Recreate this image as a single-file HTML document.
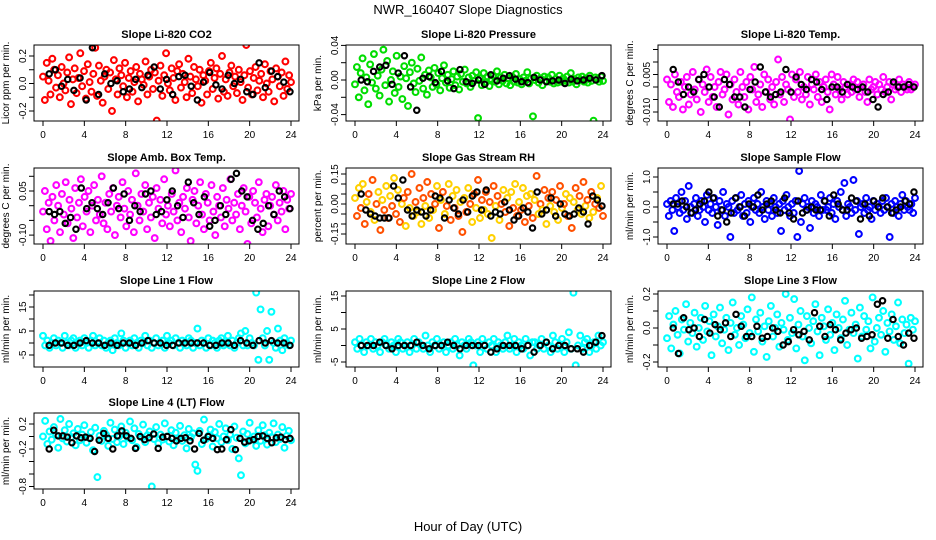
<!DOCTYPE html>
<html><head><meta charset="utf-8"><style>
body{margin:0;background:#fff}
svg{display:block;font-family:"Liberation Sans",sans-serif}
</style></head><body>
<svg id="chart" width="936" height="540" viewBox="0 0 936 540">
<rect width="936" height="540" fill="#fff"/>
<text x="468" y="14" font-size="13" text-anchor="middle">NWR_160407  Slope Diagnostics</text>
<text x="468" y="531" font-size="13" text-anchor="middle">Hour of Day (UTC)</text>
</svg>
<script>
const xTicks=[0,4,8,12,16,20,24];
const co2Vals=[5,-12,15,2,-8,18,10,-3,6,-10,12,0,-5,8,19,-15,3,11,-7,4,22,-2,9,-11,14,1,-6,7,26,-9,13,2,-14,5,10,-4,8,-20,17,3,-8,11,6,-2,15,-10,4,9,-6,1,12,-13,7,3,-1,16,-8,5,10,-4,8,-27,2,13,-9,6,22,0,-5,11,4,-12,9,14,-3,7,1,-10,18,5,-7,12,3,-2,10,-14,6,2,-8,9,15,-4,4,11,-11,7,20,-6,3,-9,8,13,-2,5,-7,10,1,-12,6,28,-3,9,-8,4,12,-5,2,7,-10,14,0,-6,9,3,-13,11,5,-2,8,-9,16,-4,6,1];
const co2Black=[7,10,-2,3,-5,4,-12,26,-8,7,0,2,-6,-4,3,-3,6,12,-4,3,-8,5,6,-2,-12,1,8,-1,-4,6,0,3,-6,-8,15,-3,9,5,1,-6];
const presVals=[-5,15,-20,8,25,-12,3,-28,18,-3,30,-10,5,-18,12,35,-6,22,-25,0,10,-15,28,-8,4,-22,16,2,-30,9,20,-4,-14,13,-1,26,-10,6,-17,11,3,-8,14,-5,8,-12,2,17,-3,6,-9,1,10,-6,4,-11,7,-2,12,-4,3,-8,5,-1,9,-44,2,-6,8,-3,4,-7,1,5,-2,10,-5,3,-1,6,-4,2,-6,4,-2,7,-3,1,-5,3,-1,9,-4,2,-42,0,5,-3,2,-6,4,-1,3,-2,6,-4,1,-3,5,-2,2,-1,4,-3,8,-2,1,-5,3,0,4,-2,2,-3,5,-1,-47,3,1,-2,4,-1];
const presBlack=[0,-2,10,15,17,-5,8,28,-8,-35,2,4,-3,10,-1,-10,12,-2,-4,0,-5,6,-1,2,5,1,-2,-3,3,0,-2,-1,0,-4,1,-1,0,2,0,5];
const tempVals=[3,-6,1,-8,5,-2,-4,2,-9,0,4,-7,-3,6,-1,-5,3,-10,1,-2,7,-6,4,-4,0,-8,2,6,-3,-1,5,-11,1,-5,3,-2,-7,6,0,-4,2,-9,4,-1,8,-6,-3,1,-8,5,-2,3,-5,0,-7,2,11,-3,4,-6,1,-1,-13,5,-4,3,-2,6,-5,0,-3,4,-7,1,-1,5,-4,2,-6,0,3,-2,-9,5,1,-3,4,-1,-5,2,0,-3,1,-2,3,-1,2,-4,0,1,-2,-6,3,-1,0,2,-3,1,-1,4,-2,0,2,-5,1,-1,0,3,-2,1,0,-1,2,-1,0,1];
const tempBlack=[7,2,-3,0,-2,3,5,0,-4,-8,3,1,-4,-4,-8,-1,2,8,-2,-4,-3,-2,7,-2,4,1,-1,3,2,-1,-5,0,0,-2,1,0,-1,0,-2,-5,-8,-3,-2,2,0,0,1,0];
const ambVals=[-2,5,-8,1,-12,3,-5,7,0,-9,4,-3,8,-6,2,-1,-11,6,-4,1,9,-7,3,-2,5,-9,0,7,-5,2,-3,10,-6,1,-8,4,-2,6,-10,0,3,-4,8,-1,-7,5,-3,2,-9,11,0,-5,4,-2,7,-8,1,-4,3,-11,6,-1,2,-6,9,-3,0,-7,4,-2,12,-5,1,-9,3,-1,6,-4,-12,2,5,-6,0,8,-3,-8,4,1,-5,7,-2,-10,3,0,-4,6,-7,2,-1,9,-5,1,-3,4,-8,0,6,-2,-13,3,-6,5,1,-4,8,-1,-9,2,4,-7,0,3,-3,7,-5,1,-2,5,-8,2,-1,4];
const ambBlack=[-2,-3,-2,-6,-4,-8,6,-1,1,-1,-3,1,6,-1,4,-5,0,-2,4,5,-3,-2,2,5,0,-4,8,1,-3,3,-7,-5,0,-3,9,11,5,3,-5,-8,-6,0,-3,5,3,-1];
const rhVals=[3,-6,8,-2,10,-10,1,5,-4,12,-8,0,6,-13,2,-3,9,-7,4,-1,13,-5,7,-9,0,3,-11,6,-2,15,-6,1,-4,8,-10,3,-1,11,-7,5,-3,0,9,-12,2,6,-5,-1,10,-8,4,-2,7,-6,1,-14,3,-4,8,0,-9,5,-2,12,-7,2,-3,6,-5,1,-17,9,-1,4,-8,0,7,-4,3,-11,6,-2,10,-6,1,-3,8,-9,4,-1,5,-7,2,14,-5,0,-3,7,-10,3,-1,6,-4,2,-8,9,-2,0,5,-6,3,-12,1,8,-3,4,-5,11,-1,2,-7,6,-4,0,3,-2,9,-6];
const rhBlack=[5,-3,-5,-6,-7,-7,-7,9,3,12,-3,-6,-3,-4,-6,-3,4,3,-7,2,-2,-5,2,-4,4,6,-3,7,-6,-4,-5,1,-3,-8,-6,-2,-4,-12,6,-5,-3,3,-6,0,-5,-6,-5,-2,-4,-10,4,2,-1];
const flowVals=[1,-3,2,-1,-8,3,0,-2,5,-1,2,-4,7,0,-2,1,3,-3,-1,2,0,-5,4,-1,1,-2,3,0,-6,2,-1,5,-3,1,0,-10,2,-2,3,-1,0,4,-3,1,-2,2,-5,0,3,-1,1,-2,5,0,-4,2,-1,1,-3,3,0,-2,1,-8,2,-1,4,0,-3,1,-2,2,-10,12,-5,1,3,-1,0,-7,2,-2,1,0,-3,4,-1,2,-1,0,3,-2,1,-4,2,0,5,-1,8,-3,1,0,-2,9,-1,2,-9,0,1,-2,3,-1,0,-4,2,-1,1,0,-2,2,-1,3,0,-10,1,-2,2,0,-3,1,4,-1,2,0,-1,1,-2,3];
const flowBlack=[1,1,2,0,-2,-1,1,2,5,3,-3,-1,-5,-2,3,0,-3,1,0,4,-1,1,2,-1,-2,3,-2,-4,2,-2,-1,0,-1,-1,2,-3,4,1,-1,-1,3,2,-4,1,-3,2,0,3,0,-2,-1,0,2,1,5];
const line1Vals=[3,-1,1,-2,0,2,-1,1,0,-2,3,0,-1,1,2,-2,0,1,-1,2,0,-2,1,3,-1,0,2,-1,1,-2,0,1,-3,2,0,-1,4,1,-2,0,1,-1,2,0,-2,1,0,3,-1,1,-2,0,2,-1,0,1,-2,3,0,1,-1,2,0,-2,1,0,-1,2,1,-2,0,6,-1,1,0,-2,2,-1,1,0,-2,1,2,-1,0,3,-1,1,-2,0,2,4,-1,5,-1,2,0,-1,21,-7,14,2,-1,5,-7,13,0,-2,6,1,-3,2,0,-1,1];
const line1Black=[-1,0,0,-1,-1,0,1,0,0,-1,0,-1,0,0,-1,0,1,0,0,-1,-1,0,0,0,0,0,-1,-1,0,0,-1,1,0,-1,1,0,1,0,0,-1];
const line2Vals=[1,-1,2,0,-2,1,0,2,-1,1,0,-2,1,2,0,-1,1,0,-2,2,1,-1,0,1,-2,0,2,-1,1,0,-1,3,0,-2,1,0,2,-1,0,1,-2,0,1,-1,2,0,-3,1,0,-1,2,1,-6,0,1,-2,2,0,-1,1,0,2,-2,1,0,-1,1,3,-1,0,2,-2,1,0,-1,2,0,-3,1,1,-1,0,2,-1,1,0,-2,3,1,-1,0,2,-2,1,4,-1,16,-6,0,3,-1,1,2,-2,0,1,-1,3,0,1];
const line2Black=[0,0,0,1,0,-1,0,0,0,1,0,-1,0,0,1,0,-1,0,0,0,0,-2,-1,0,0,0,-1,0,-2,0,1,-1,0,0,-1,-1,-2,0,1,3];
const line3Vals=[-6,7,-12,2,10,-4,-15,5,-1,14,-8,3,-3,9,-11,0,6,-7,13,-2,4,-16,8,-5,1,12,-9,-1,6,-13,3,15,-4,0,-10,7,2,-6,11,-3,18,-14,5,-2,9,-8,1,-17,4,13,-5,0,8,-11,3,-1,20,-7,6,-3,17,-12,2,10,-5,-19,7,0,-9,4,14,-2,-16,6,1,-7,11,-4,3,-13,8,0,-6,5,16,-10,-1,9,-3,2,-18,12,-5,7,-1,4,-12,18,-8,0,6,-4,10,-14,3,-2,8,-7,1,15,-9,5,-3,2,-21,6,-1,4];
const line3Black=[0,-15,6,-1,0,-5,5,-3,2,-1,3,-5,8,1,-5,-5,1,-6,-5,0,-2,-10,-8,-1,-4,-2,-7,9,1,-5,2,-1,-7,-3,-1,0,-6,-5,-4,14,16,-6,5,-5,-10,-3,-6];
const line4Vals=[0,25,-12,8,-5,15,2,-18,28,-3,10,-8,20,-1,5,-14,12,-6,3,18,-10,-2,7,-22,14,-65,1,-7,9,3,-15,22,-4,11,-9,0,16,-12,6,-2,24,-6,13,-17,4,-1,19,-9,2,8,-80,-4,15,-11,3,-5,21,0,-8,10,-14,6,-3,17,-7,2,-19,12,-1,5,-45,-55,9,-12,27,-4,1,11,-16,7,-3,20,-9,0,13,-6,3,-20,16,-2,-35,-62,8,-11,4,22,-5,0,-15,10,-7,18,2,-13,6,-1,21,-9,3,-4,15,-18,1,9,-6];
const line4Black=[-20,10,1,1,-1,-10,1,-2,-1,-3,-24,-6,5,-3,-20,1,9,1,-3,-19,0,-5,-2,4,-19,-1,0,-3,-7,-3,-2,-7,-20,5,-6,0,-3,-21,-20,-5,11,-21,-3,-9,-7,-5,0,1,-3,-10,-2,-1,-5,-3];

const NS="http://www.w3.org/2000/svg";
const svg=document.getElementById('chart');
function mk(tag,attrs,parent){const e=document.createElementNS(NS,tag);for(const k in attrs)e.setAttribute(k,attrs[k]);(parent||svg).appendChild(e);return e;}

const panels=[
 {id:'co2',title:'Slope Li-820 CO2',yl:'Licor ppm per min.',col:0,row:0,vals:co2Vals,blk:co2Black,unit:0.01,z:83.5,k:137.5,ticks:[-0.2,-0.1,0,0.1,0.2],labs:[[-0.2,'-0.2'],[0,'0.0'],[0.2,'0.2']],color:'#ff0000'},
 {id:'pressure',title:'Slope Li-820 Pressure',yl:'kPa per min.',col:1,row:0,vals:presVals,blk:presBlack,unit:0.001,z:80,k:865,ticks:[-0.04,-0.02,0,0.02,0.04],labs:[[-0.04,'-0.04'],[0,'0.00'],[0.04,'0.04']],color:'#00dd00'},
 {id:'li820-temp',title:'Slope Li-820 Temp.',yl:'degrees C per min.',col:2,row:0,vals:tempVals,blk:tempBlack,unit:0.001,z:87,k:2500,ticks:[-0.01,-0.005,0,0.005,0.01,0.015],labs:[[-0.01,'-0.010'],[0.005,'0.005']],color:'#ff00ff'},
 {id:'amb-box-temp',title:'Slope Amb. Box Temp.',yl:'degrees C per min.',col:0,row:1,vals:ambVals,blk:ambBlack,unit:0.01,z:205.7,k:294,ticks:[-0.1,-0.05,0,0.05,0.1],labs:[[-0.1,'-0.10'],[0.05,'0.05']],color:'#ff00ff'},
 {id:'gas-stream-rh',title:'Slope Gas Stream RH',yl:'percent per min.',col:1,row:1,vals:rhVals,blk:rhBlack,unit:0.01,z:204,k:200,ticks:[-0.15,-0.1,-0.05,0,0.05,0.1,0.15],labs:[[-0.15,'-0.15'],[0,'0.00'],[0.15,'0.15']],color:'#ffd000',color2:'#ff5000'},
 {id:'sample-flow',title:'Slope Sample Flow',yl:'ml/min per min.',col:2,row:1,vals:flowVals,blk:flowBlack,unit:0.1,z:207,k:30,ticks:[-1,-0.5,0,0.5,1],labs:[[-1,'-1.0'],[0,'0.0'],[1,'1.0']],color:'#0000ff'},
 {id:'line1-flow',title:'Slope Line 1 Flow',yl:'ml/min per min.',col:0,row:2,vals:line1Vals,blk:line1Black,unit:1,z:343,k:2.4,ticks:[-5,0,5,10,15,20],labs:[[-5,'-5'],[5,'5'],[15,'15']],color:'#00ffff'},
 {id:'line2-flow',title:'Slope Line 2 Flow',yl:'ml/min per min.',col:1,row:2,vals:line2Vals,blk:line2Black,unit:1,z:345.5,k:3.3,ticks:[-5,0,5,10,15],labs:[[-5,'-5'],[5,'5'],[15,'15']],color:'#00ffff'},
 {id:'line3-flow',title:'Slope Line 3 Flow',yl:'ml/min per min.',col:2,row:2,vals:line3Vals,blk:line3Black,unit:0.01,z:328,k:170,ticks:[-0.2,-0.1,0,0.1,0.2],labs:[[-0.2,'-0.2'],[0,'0.0'],[0.2,'0.2']],color:'#00ffff'},
 {id:'line4-flow',title:'Slope Line 4 (LT) Flow',yl:'ml/min per min.',col:0,row:3,vals:line4Vals,blk:line4Black,unit:0.01,z:436.5,k:62.5,ticks:[-0.8,-0.6,-0.4,-0.2,0,0.2],labs:[[-0.8,'-0.8'],[-0.2,'-0.2'],[0.2,'0.2']],color:'#00ffff'}
];
const colLeft=[34,346,658], rowTop=[45,168,291,413], W=265, H=76;

panels.forEach(p=>{
  const L=colLeft[p.col], T=rowTop[p.row], B=T+H, R=L+W;
  const xs=h=>L+9+h*(248/24);
  const ys=v=>p.z-v*p.k;
  const g=mk('g',{});
  
  
  const cp=mk('clipPath',{id:'cp-'+p.id},g); mk('rect',{x:L,y:T,width:W,height:H},cp);
  const t=mk('text',{x:(L+R)/2,y:T-7,'font-size':11,'font-weight':'bold','text-anchor':'middle'},g);
  t.textContent=p.title;
  
  
  const yl=mk('text',{x:0,y:0,'font-size':10,'text-anchor':'middle',transform:`translate(${L-25},${(T+B)/2}) rotate(-90)`},g);
  yl.textContent=p.yl;
  
  
  const mg=mk('g',{'clip-path':`url(#cp-${p.id})`,fill:'none','stroke-width':2.1},g);
  const n=p.vals.length;
  p.vals.forEach((v,i)=>{
    const c=mk('circle',{cx:xs(i*24/(n-1)),cy:ys(v*p.unit),r:2.9,stroke:(p.color2&&i%2)?p.color2:p.color},mg);
    
    
  });
  const nb=p.blk.length;
  p.blk.forEach((v,i)=>{
    const c=mk('circle',{cx:xs(0.6+i*23.3/(nb-1)),cy:ys(v*p.unit),r:2.7,stroke:'#000'},mg);
    
    
  });
  mk('rect',{x:L,y:T,width:W,height:H,fill:'none',stroke:'#000','stroke-width':1},g);
  p.ticks.forEach(v=>{const y=ys(v);mk('line',{x1:L-5,x2:L,y1:y,y2:y,stroke:'#000'},g);});
  p.labs.forEach(([v,s])=>{
    const y=ys(v);
    const lt=mk('text',{x:0,y:0,'font-size':10,'text-anchor':'middle',transform:`translate(${L-8},${y}) rotate(-90)`},g);
    lt.textContent=s;
    
    
  });
  xTicks.forEach(h=>{
    const x=xs(h);
    mk('line',{x1:x,x2:x,y1:B,y2:B+5,stroke:'#000'},g);
    const xt=mk('text',{x:x,y:B+17,'font-size':10,'text-anchor':'middle'},g);
    xt.textContent=h;
    
    
  });
});
</script>
</body></html>
